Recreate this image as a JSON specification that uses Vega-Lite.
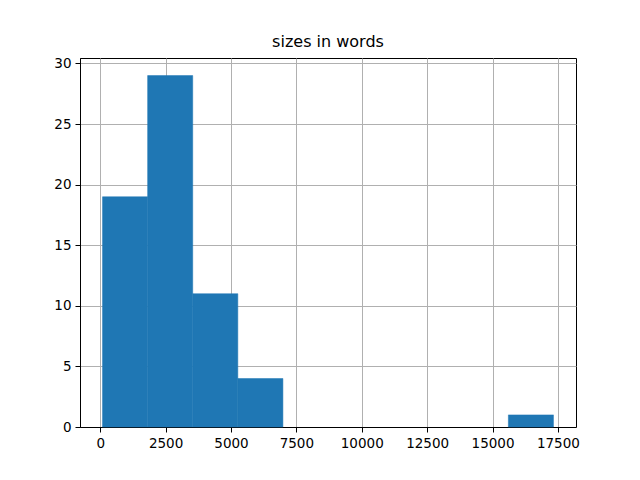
{
  "$schema": "https://vega.github.io/schema/vega-lite/v6.json",
  "width": 496,
  "height": 369,
  "autosize": {"type": "none"},
  "padding": {"left": 80, "top": 58, "right": 64, "bottom": 53},
  "background": "white",
  "title": {"text": "sizes in words", "font": "DejaVu Sans", "fontSize": 16, "fontWeight": "normal", "color": "black", "offset": 6, "anchor": "middle"},
  "config": {
    "view": {"stroke": "black", "strokeWidth": 1},
    "axis": {
      "labelFont": "DejaVu Sans", "labelFontSize": 13.5, "labelColor": "black",
      "domainColor": "black", "domainWidth": 1,
      "tickColor": "black", "tickSize": 5, "tickWidth": 1,
      "gridColor": "#b0b0b0", "gridWidth": 1, "gridOpacity": 1,
      "labelPadding": 4, "zindex": 1, "title": null
    }
  },
  "data": {"values": [
    {"start": 90, "end": 1814, "count": 19},
    {"start": 1814, "end": 3538, "count": 29},
    {"start": 3538, "end": 5262, "count": 11},
    {"start": 5262, "end": 6986, "count": 4},
    {"start": 6986, "end": 8710, "count": 0},
    {"start": 8710, "end": 10434, "count": 0},
    {"start": 10434, "end": 12158, "count": 0},
    {"start": 12158, "end": 13882, "count": 0},
    {"start": 13882, "end": 15606, "count": 0},
    {"start": 15606, "end": 17330, "count": 1}
  ]},
  "mark": {"type": "rect", "color": "#1f77b4", "stroke": "#1f77b4", "strokeWidth": 0.5},
  "encoding": {
    "x": {"field": "start", "type": "quantitative",
      "scale": {"domain": [-772, 18192], "nice": false, "zero": false},
      "axis": {"values": [0, 2500, 5000, 7500, 10000, 12500, 15000, 17500], "format": "d", "labelFlush": false}},
    "x2": {"field": "end"},
    "y": {"field": "count", "type": "quantitative",
      "scale": {"domain": [0, 30.45], "nice": false},
      "axis": {"values": [0, 5, 10, 15, 20, 25, 30], "labelFlush": false}},
    "y2": {"datum": 0},
    "strokeOpacity": {"condition": {"test": "datum.count > 0", "value": 1}, "value": 0}
  }
}
